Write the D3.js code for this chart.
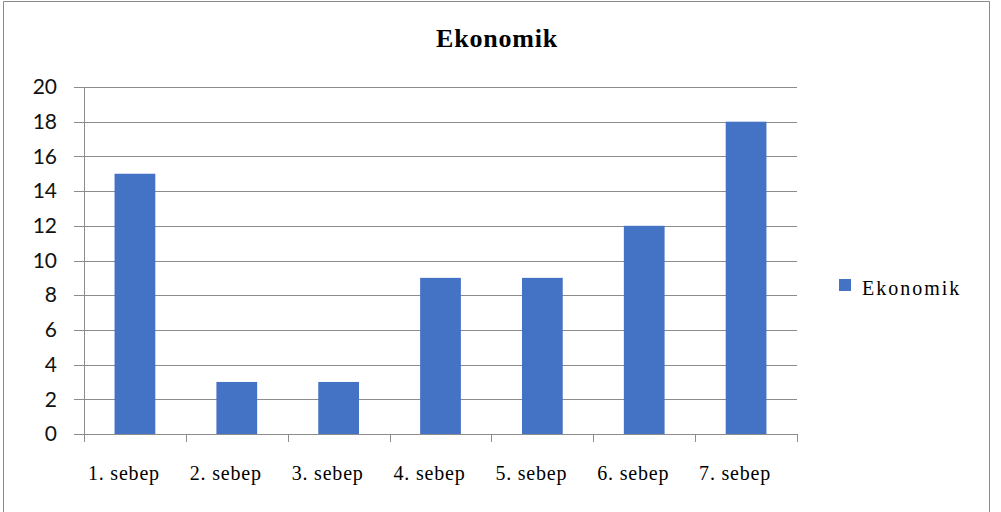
<!DOCTYPE html>
<html>
<head>
<meta charset="utf-8">
<script src="https://cdn.jsdelivr.net/npm/d3@7"></script>
<style>
  html, body { margin: 0; padding: 0; background: #fff; }
  svg { display: block; }
</style>
</head>
<body>
<svg id="chart" width="1001" height="512"></svg>
<script>
// Chart data
const title = "Ekonomik";
const seriesName = "Ekonomik";
const categories = ["1. sebep", "2. sebep", "3. sebep", "4. sebep", "5. sebep", "6. sebep", "7. sebep"];
const values = [15, 3, 3, 9, 9, 12, 18];
const yTicks = [0, 2, 4, 6, 8, 10, 12, 14, 16, 18, 20];

const svg = d3.select("#chart");
const W = 1001, H = 512;
const plot = { left: 84, right: 797, top: 87, bottom: 434 };
const barColor = "#4472C4";
const gridColor = "#8c8c8c";
const serif = "'Liberation Serif', 'Times New Roman', serif";
const sans = "Lato, 'Liberation Sans', sans-serif";

// Outer frame (left, top, right edges)
svg.append("path")
  .attr("d", `M3.5,${H} V1.5 H989.5 V${H}`)
  .attr("fill", "none")
  .attr("stroke", "#8a8a8a")
  .attr("stroke-width", 1);

const x = d3.scaleBand().domain(categories).range([plot.left, plot.right]).padding(0);
const y = d3.scaleLinear().domain([0, 20]).range([plot.bottom, plot.top]);

// Horizontal gridlines with tick marks extending left of the axis
const yAxis = d3.axisLeft(y)
  .tickValues(yTicks)
  .tickSize(plot.right - plot.left + 10)
  .tickFormat(d3.format("d"));

const gy = svg.append("g")
  .attr("transform", `translate(${plot.right},0)`)
  .call(yAxis);
gy.select(".domain").remove();
gy.selectAll(".tick line")
  .attr("stroke", gridColor)
  .attr("stroke-width", 1)
  .attr("shape-rendering", "crispEdges");
gy.selectAll(".tick text")
  .attr("x", -(plot.right - plot.left) - 27)
  .attr("font-family", sans)
  .attr("font-size", 21)
  .attr("fill", "#111");

// Vertical value axis line
svg.append("line")
  .attr("x1", plot.left).attr("x2", plot.left)
  .attr("y1", plot.top).attr("y2", plot.bottom)
  .attr("stroke", gridColor)
  .attr("shape-rendering", "crispEdges");

// Bars
const barW = x.bandwidth() * 0.4;
svg.append("g").selectAll("rect")
  .data(values)
  .join("rect")
  .attr("x", (d, i) => x(categories[i]) + (x.bandwidth() - barW) / 2)
  .attr("y", d => y(d))
  .attr("width", barW)
  .attr("height", d => y(0) - y(d))
  .attr("fill", barColor);

// Category axis
const xAxis = d3.axisBottom(x).tickSize(0).tickPadding(0);
const gx = svg.append("g")
  .attr("transform", `translate(0,${plot.bottom})`)
  .call(xAxis);
gx.select(".domain")
  .attr("stroke", gridColor)
  .attr("d", `M${plot.left},0.5H${plot.right}`);
gx.selectAll(".tick text")
  .attr("x", -11)
  .attr("y", 46)
  .attr("dy", 0)
  .attr("font-family", serif)
  .attr("font-size", 20)
  .attr("letter-spacing", 0.8)
  .attr("fill", "#000");

// Category boundary tick marks
const boundaries = categories.map(c => x(c)).concat([plot.right]);
svg.append("g").selectAll("line")
  .data(boundaries)
  .join("line")
  .attr("x1", d => Math.round(d) + 0.5).attr("x2", d => Math.round(d) + 0.5)
  .attr("y1", plot.bottom).attr("y2", plot.bottom + 8)
  .attr("stroke", gridColor);

// Title
svg.append("text")
  .attr("x", 497)
  .attr("y", 47)
  .attr("text-anchor", "middle")
  .attr("font-family", serif)
  .attr("font-weight", "bold")
  .attr("font-size", 26)
  .attr("letter-spacing", 0.8)
  .attr("fill", "#000")
  .text(title);

// Legend
const legend = svg.append("g").attr("transform", "translate(839,279)");
legend.append("rect")
  .attr("width", 12).attr("height", 12)
  .attr("fill", barColor);
legend.append("text")
  .attr("x", 23)
  .attr("y", 16)
  .attr("font-family", serif)
  .attr("font-size", 20)
  .attr("letter-spacing", 2)
  .attr("fill", "#000")
  .text(seriesName);
</script>
</body>
</html>
